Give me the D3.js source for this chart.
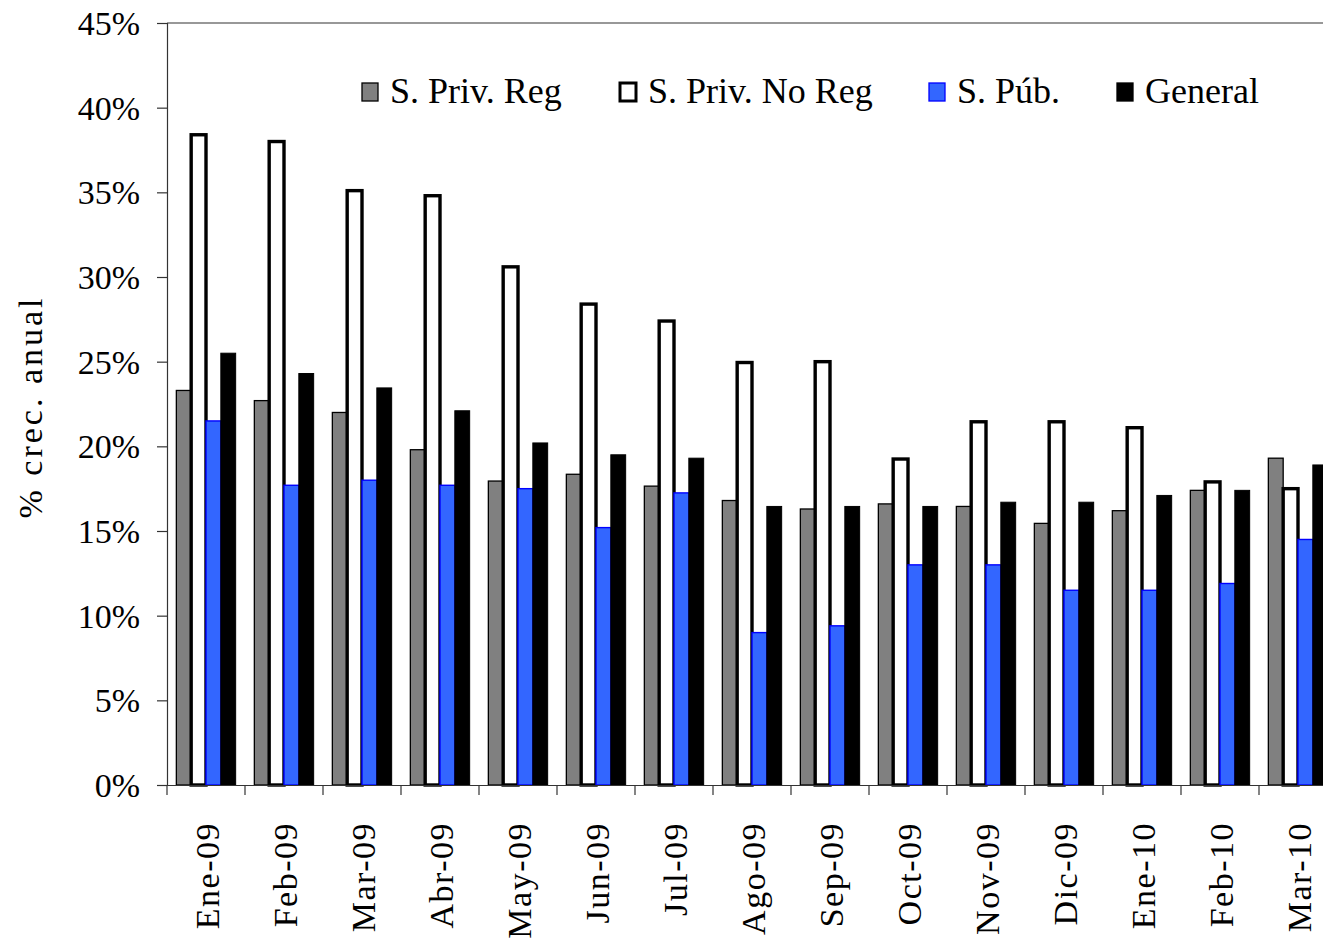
<!DOCTYPE html>
<html>
<head>
<meta charset="utf-8">
<script src="https://cdn.jsdelivr.net/npm/d3@7"></script>
<style>
  html, body { margin: 0; padding: 0; background: #fff; }
  svg { display: block; }
  text { font-family: "Liberation Serif", "Times New Roman", serif; fill: #000; }
</style>
</head>
<body>
<svg id="chart" width="1323" height="943"></svg>
<script>
const categories = ["Ene-09","Feb-09","Mar-09","Abr-09","May-09","Jun-09","Jul-09","Ago-09","Sep-09","Oct-09","Nov-09","Dic-09","Ene-10","Feb-10","Mar-10"];
const seriesNames = ["S. Priv. Reg","S. Priv. No Reg","S. Púb.","General"];
const privReg   = [23.3, 22.7, 22.0, 19.8, 17.95, 18.35, 17.65, 16.8, 16.3, 16.6, 16.45, 15.45, 16.2, 17.4, 19.3];
const privNoReg = [38.4, 38.0, 35.1, 34.8, 30.6, 28.4, 27.4, 24.95, 25.0, 19.25, 21.45, 21.45, 21.1, 17.9, 17.5];
const publico   = [21.5, 17.7, 18.0, 17.7, 17.5, 15.2, 17.25, 9.0, 9.4, 13.0, 13.0, 11.5, 11.5, 11.9, 14.5];
const general   = [25.5, 24.3, 23.45, 22.1, 20.2, 19.5, 19.3, 16.45, 16.45, 16.45, 16.7, 16.7, 17.1, 17.4, 18.9];
const yTicks = [0, 5, 10, 15, 20, 25, 30, 35, 40, 45];
const yLabel = "% crec. anual";

const seriesValues = [privReg, privNoReg, publico, general];
const styles = [
  {fill: "#808080", stroke: "#000", sw: 1.3},
  {fill: "#ffffff", stroke: "#000", sw: 3.4},
  {fill: "#3366ff", stroke: "#0000ff", sw: 1.4},
  {fill: "#000000", stroke: "#000", sw: 1}
];

const svg = d3.select("#chart");
const plotLeft = 167, plotTop = 23, plotBottom = 785;
const step = 78;

const x0 = d3.scaleBand().domain(categories).range([plotLeft, plotLeft + step * categories.length]).padding(0);
const x1 = d3.scaleBand().domain(seriesNames).range([0, x0.bandwidth()]).paddingInner(0).paddingOuter(0.63);
const y = d3.scaleLinear().domain([0, 45]).range([plotBottom, plotTop]);

// Bars
const g = svg.append("g");
seriesNames.forEach((s, si) => {
  g.append("g").selectAll("rect")
    .data(categories.map((c, i) => ({c, v: seriesValues[si][i]})))
    .join("rect")
    .attr("x", d => x0(d.c) + x1(s))
    .attr("y", d => y(d.v))
    .attr("width", x1.bandwidth())
    .attr("height", d => y(0) - y(d.v))
    .attr("fill", styles[si].fill)
    .attr("stroke", styles[si].stroke)
    .attr("stroke-width", styles[si].sw);
});

// Top border
svg.append("line").attr("x1", plotLeft).attr("x2", 1323).attr("y1", plotTop).attr("y2", plotTop)
  .attr("stroke", "#333").attr("stroke-width", 1.2);

// Y axis
const yAxis = svg.append("g").attr("transform", `translate(${plotLeft},0)`)
  .call(d3.axisLeft(y).tickValues(yTicks).tickSize(10).tickPadding(17).tickFormat(d => d + "%"));
yAxis.select(".domain").attr("stroke", "#333").attr("stroke-width", 1.2);
yAxis.selectAll(".tick line").attr("stroke", "#333").attr("stroke-width", 1.2);
yAxis.selectAll(".tick text").attr("font-size", 34).attr("font-family", "Liberation Serif").attr("fill", "#000").attr("dy", "0.34em");

// X axis
const xAxis = svg.append("g").attr("transform", `translate(0,${plotBottom})`)
  .call(d3.axisBottom(x0).tickSize(0).tickFormat(""));
xAxis.select(".domain").attr("stroke", "#333").attr("stroke-width", 1.2);
xAxis.selectAll(".tick").remove();
const bounds = categories.map(c => x0(c));
xAxis.selectAll("line.b").data(bounds).join("line").attr("class", "b")
  .attr("x1", d => d).attr("x2", d => d).attr("y1", 0).attr("y2", 10)
  .attr("stroke", "#333").attr("stroke-width", 1.2);
xAxis.selectAll("text.lbl").data(categories).join("text").attr("class", "lbl")
  .attr("transform", d => `translate(${x0(d) + x0.bandwidth() / 2 + 13},${37}) rotate(-90)`)
  .attr("text-anchor", "end")
  .attr("font-size", 34)
  .attr("letter-spacing", 1.5)
  .text(d => d);

// Y label
svg.append("text")
  .attr("transform", `translate(42,407) rotate(-90)`)
  .attr("text-anchor", "middle")
  .attr("font-size", 34)
  .attr("letter-spacing", 3)
  .text(yLabel);

// Legend
const legendX = [362, 620, 929, 1117];
const lg = svg.append("g");
seriesNames.forEach((s, si) => {
  lg.append("rect")
    .attr("x", legendX[si]).attr("y", 83)
    .attr("width", 16).attr("height", 18)
    .attr("fill", styles[si].fill)
    .attr("stroke", styles[si].stroke)
    .attr("stroke-width", si === 1 ? 3 : 1.3);
  lg.append("text")
    .attr("x", legendX[si] + 28).attr("y", 103)
    .attr("font-size", 36)
    .text(s);
});
</script>
</body>
</html>
